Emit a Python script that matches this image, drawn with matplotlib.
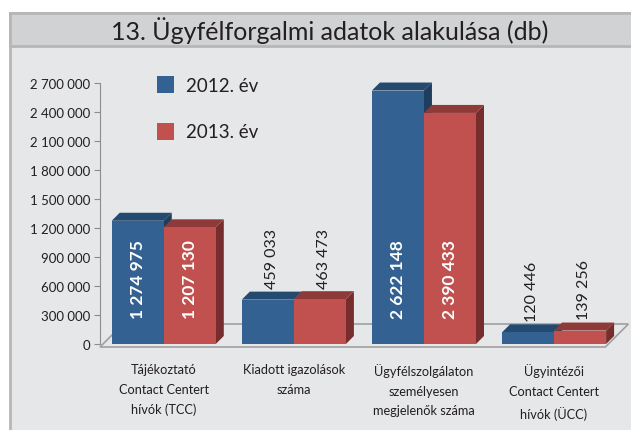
import numpy as np
import matplotlib
matplotlib.use("Agg")
import matplotlib.pyplot as plt
from matplotlib.patches import Polygon, Rectangle

plt.rcParams['font.family'] = ['Lato', 'DejaVu Sans']

categories = ["Tájékoztató\nContact Centert\nhívók (TCC)",
              "Kiadott igazolások\nszáma",
              "Ügyfélszolgálaton\nszemélyesen\nmegjelenők száma",
              "Ügyintézői\nContact Centert\nhívók (ÜCC)"]
v2012 = [1274975, 459033, 2622148, 120446]
v2013 = [1207130, 463473, 2390433, 139256]
series_names = ["2012. év", "2013. év"]
yticks = np.arange(0, 2700001, 300000)

def fmt(v):
    return "{:,}".format(v).replace(",", " ")

W, H = 631, 431
fig = plt.figure(figsize=(W / 100, H / 100), dpi=100)
fig.patch.set_facecolor("white")

# background frame (pixel coords)
bg = fig.add_axes([0, 0, 1, 1], zorder=-5)
bg.set_xlim(0, W)
bg.set_ylim(H, 0)
bg.axis("off")
bg.add_patch(Rectangle((10, 14), W, H, facecolor="#e6e7e8", edgecolor="#b5b6b8", lw=2))
bg.add_patch(Rectangle((10, 14), W, 33, facecolor="#d1d2d4", edgecolor="#b5b6b8", lw=2))
bg.text(330, 31, "13. Ügyfélforgalmi adatok alakulása (db)", ha="center", va="center",
        fontsize=18, color="#231f20")

# legend
leg_cols = ["#336192", "#c0514f"]
for k, (name, col) in enumerate(zip(series_names, leg_cols)):
    y0 = 77 + k * 47
    bg.add_patch(Rectangle((157, y0), 17, 17, facecolor=col, edgecolor="none"))
    bg.text(186, y0 + 9, name, ha="left", va="center", fontsize=13.5, color="#231f20")

ax = fig.add_axes([100 / W, 86 / H, 510 / W, 261 / H])
ax.set_facecolor("none")
x0, x1 = -0.49, 3.43
ax.set_xlim(x0, x1)
ax.set_ylim(0, 2700000)
for s in ["top", "right", "bottom"]:
    ax.spines[s].set_visible(False)
ax.spines["left"].set_color("#8c8c8c")
ax.set_yticks(yticks)
ax.set_yticklabels([fmt(t) for t in yticks], fontsize=9.5, color="#231f20")
ax.tick_params(axis="y", length=4, color="#8c8c8c", pad=3)
ax.set_xticks([])

# 3D floor
px_x = 1 / 130.0
px_y = 2700000 / 261.0
fy0, fy1 = -3 * px_y, 20 * px_y
fx_r = x0 + 505 * px_x
fd = 23 * px_x
floor = [(x0, fy0), (fx_r, fy0), (fx_r + fd, fy1), (x0 + fd, fy1)]
ax.add_patch(Polygon(floor, closed=True, facecolor="#e6e7e8", edgecolor="#a0a0a0",
                     lw=1.2, clip_on=False, zorder=1))

front = ["#336192", "#c0514f"]
top = ["#244a70", "#8e3a39"]
side = ["#1f3e5e", "#772d2d"]
w = 0.4
dx, dy = 8 * px_x, 8 * px_y
xs = np.arange(len(categories))

for k, vals in enumerate([v2012, v2013]):
    for i, v in enumerate(vals):
        xc = xs[i] - 0.2 + 0.4 * k
        l, r = xc - w / 2, xc + w / 2
        z = 3 + i * 2 + k
        ax.bar(xc, v, width=w, color=front[k], zorder=z + 0.5)
        ax.add_patch(Polygon([(r, 0), (r + dx, dy), (r + dx, v + dy), (r, v)],
                             facecolor=side[k], edgecolor="none", clip_on=False, zorder=z))
        ax.add_patch(Polygon([(l, v), (l + dx, v + dy), (r + dx, v + dy), (r, v)],
                             facecolor=top[k], edgecolor="none", clip_on=False, zorder=z))
        if v > 1000000:
            ax.text(xc, 270000, fmt(v), rotation=90, ha="center", va="bottom",
                    fontsize=12.5, fontweight="bold", color="white", zorder=20)
        else:
            ax.text(xc + dx / 2, v + 120000, fmt(v), rotation=90, ha="center", va="bottom",
                    fontsize=11.5, color="#231f20", zorder=20)

for i, c in enumerate(categories):
    ax.text(xs[i], -200000, c, ha="center", va="top", fontsize=9.2, color="#231f20",
            linespacing=1.75)

fig.savefig("out.png", dpi=100)
